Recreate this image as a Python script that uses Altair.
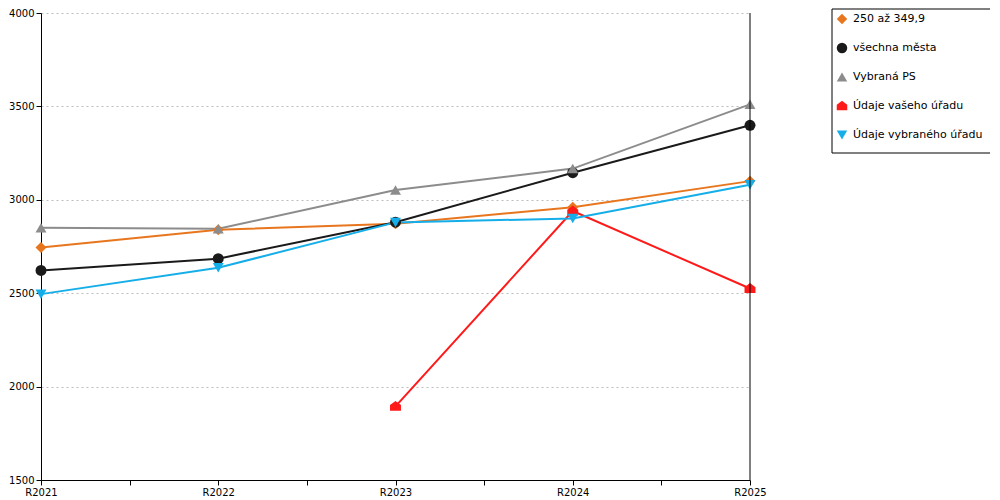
import altair as alt
import pandas as pd

years = ["R2021", "R2022", "R2023", "R2024", "R2025"]
series = ["250 až 349,9", "všechna města", "Vybraná PS", "Údaje vašeho úřadu", "Údaje vybraného úřadu"]
colors = ["#E8761E", "#1a1a1a", "#8c8c8c", "#FF1A1A", "#16AEE8"]
house = "M0,-1L1,-0.25L1,0.8L-1,0.8L-1,-0.25Z"
shapes = ["diamond", "circle", "triangle-up", house, "triangle-down"]

v_orange = [2745, 2840, 2872, 2960, 3100]
v_black = [2622, 2685, 2880, 3145, 3399]
v_gray = [2851, 2845, 3053, 3167, 3511]
v_red = [None, None, 1894, 2940, 2525]
v_blue = [2495, 2636, 2879, 2900, 3080]

rows = []
for name, vals in zip(series, [v_orange, v_black, v_gray, v_red, v_blue]):
    for i, v in enumerate(vals):
        if v is not None:
            rows.append({"series": name, "xi": i, "year": years[i], "value": v})
df = pd.DataFrame(rows)
leg_df = pd.DataFrame({"series": series, "li": list(range(len(series)))})

label_arr = "[" + ",".join("'" + y + "'" for y in years) + "]"
xscale = alt.Scale(domain=[0, len(years) - 1], nice=False, zero=False)
yscale = alt.Scale(domain=[1500, 4000], nice=False, zero=False)

x_axis = alt.Axis(
    values=[i * 0.5 for i in range(2 * (len(years) - 1) + 1)],
    labelExpr="datum.value % 1 == 0 ? " + label_arr + "[datum.value] : ''",
    title=None, grid=False, domainColor="black", tickColor="black",
    tickSize=5, labelPadding=2, labelFont="DejaVu Sans", labelFontSize=10,
    labelColor="black", labelFlush=False, labelOverlap=False,
)
y_axis = alt.Axis(
    values=[1500, 2000, 2500, 3000, 3500, 4000], title=None, format="d",
    grid=True, gridColor="#bdbdbd", gridDash=[2, 3], gridWidth=1,
    domainColor="black", tickColor="black", tickSize=5, labelPadding=2,
    labelFont="DejaVu Sans", labelFontSize=10, labelColor="black",
)

color_scale = alt.Scale(domain=series, range=colors)
shape_scale = alt.Scale(domain=series, range=shapes)

lines = alt.Chart(df).mark_line(strokeWidth=2).encode(
    x=alt.X("xi:Q", scale=xscale, axis=x_axis),
    y=alt.Y("value:Q", scale=yscale, axis=y_axis),
    stroke=alt.Stroke("series:N", scale=color_scale, legend=None),
    detail="series:N",
    order="xi:Q",
)

points = alt.Chart(df).mark_point(filled=True, size=120, opacity=1).encode(
    x=alt.X("xi:Q", scale=xscale),
    y=alt.Y("value:Q", scale=yscale, axis=None),
    color=alt.Color("series:N", scale=color_scale, legend=None),
    shape=alt.Shape("series:N", scale=shape_scale, legend=None),
)

right_line = alt.Chart(df).mark_rule(color="black", strokeWidth=1).encode(
    x=alt.X("max(xi):Q", scale=xscale)
)

# legend box drawn as marks
leg_y = alt.Y("li:Q", scale=alt.Scale(domain=[0, len(series) - 1], range=[6, 122]), axis=None)

leg_box = alt.Chart(pd.DataFrame({"a": [0]})).mark_rect(
    fill="white", stroke="black", strokeWidth=1
).encode(x=alt.value(791), x2=alt.value(957), y=alt.value(-4), y2=alt.value(140))

leg_pts = alt.Chart(leg_df).mark_point(filled=True, size=110, opacity=1).encode(
    x=alt.value(801), y=leg_y,
    color=alt.Color("series:N", scale=color_scale, legend=None),
    shape=alt.Shape("series:N", scale=shape_scale, legend=None),
)

leg_txt = alt.Chart(leg_df).mark_text(
    align="left", baseline="middle", font="DejaVu Sans", fontSize=11, color="black"
).encode(x=alt.value(812), y=leg_y, text="series:N")

chart = alt.layer(lines, points, right_line, leg_box, leg_pts, leg_txt).resolve_scale(
    y="independent"
).properties(
    width=709, height=467,
    autosize=alt.AutoSizeParams(type="none"),
    padding={"left": 33, "top": 5, "right": 240, "bottom": 20},
).configure_view(stroke=None)

chart.save("out.html", embed_options={"renderer": "svg", "actions": False})
